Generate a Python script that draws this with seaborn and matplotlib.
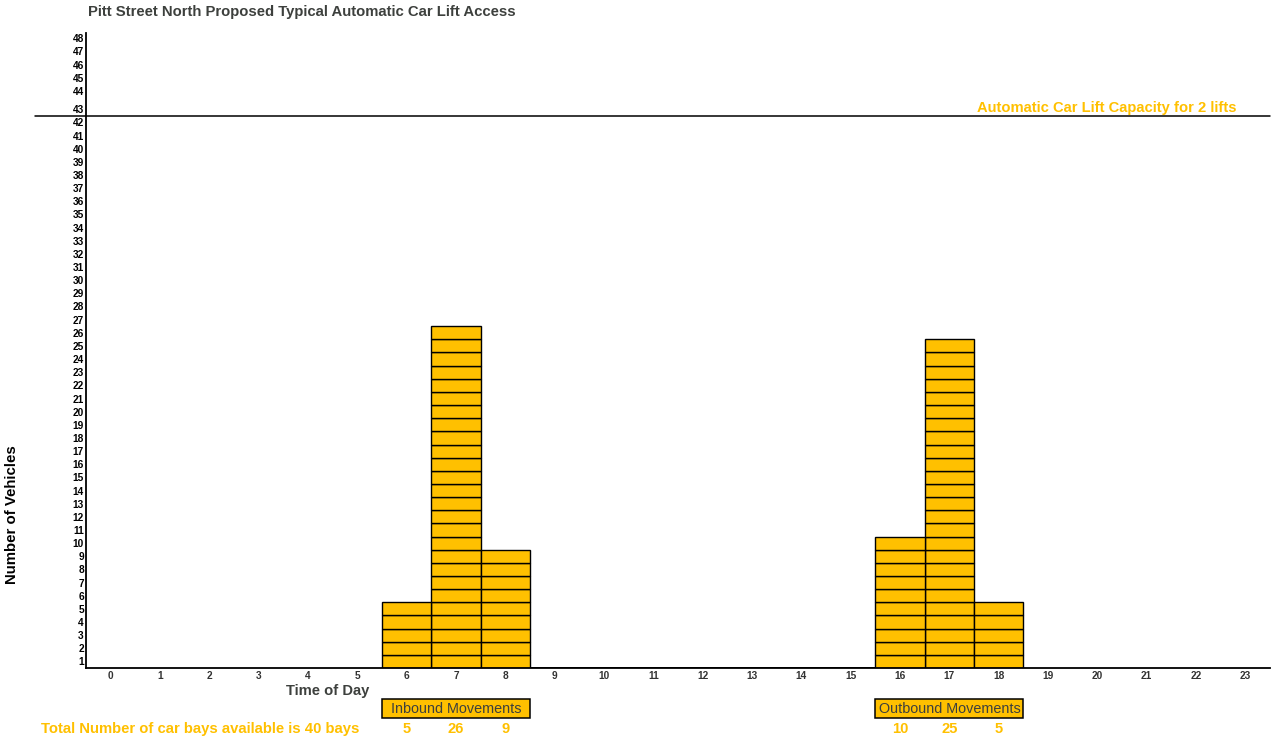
import numpy as np
import pandas as pd
import matplotlib
matplotlib.use("Agg")
import matplotlib.pyplot as plt
import matplotlib.transforms as mtransforms
from matplotlib.patches import Rectangle
import seaborn as sns

# ---- data -------------------------------------------------------------
hours = list(range(24))
inbound_hours = [6, 7, 8]
inbound_counts = [5, 26, 9]
outbound_hours = [16, 17, 18]
outbound_counts = [10, 25, 5]
y_tick_values = list(range(1, 49))
lift_capacity = 42
total_bays = 40

GOLD = "#FFC000"
DARK = "#3d403d"

# vehicles per hour across the day
vehicles_per_hour = {h: 0 for h in hours}
for h, n in zip(inbound_hours + outbound_hours, inbound_counts + outbound_counts):
    vehicles_per_hour[h] = n

# one row per vehicle, so each vehicle becomes one stacked cell
rows = [(h, k) for h, n in vehicles_per_hour.items() for k in range(n)]
df = pd.DataFrame(rows, columns=["hour", "slot"])
df["slot"] = df["slot"].astype(str)
slots = [str(k) for k in range(max(vehicles_per_hour.values()))]

# ---- figure -----------------------------------------------------------
sns.set_style("white")
plt.rcParams["font.family"] = ["Liberation Sans", "DejaVu Sans"]

fig = plt.figure(figsize=(12.72, 7.37), dpi=100)
ax = fig.add_axes([0.0676, 0.0936, 0.9309, 0.8616])

sns.histplot(data=df, x="hour", hue="slot", hue_order=slots,
             multiple="stack", discrete=True, shrink=1.0,
             palette=[GOLD] * len(slots), edgecolor="black",
             linewidth=1.0, alpha=1.0, legend=False, ax=ax)

ax.set_xlim(-0.5, 23.5)
ax.set_ylim(0, 48.3)

# x axis: every hour of the day
ax.set_xticks(hours)
ax.set_xticklabels([str(h) for h in hours], fontsize=7.3,
                   fontweight="bold", color="#333333")

# y axis: labels sit in the middle of each vehicle cell
y_pos = [v - 0.5 if v <= 43 else v - 0.1 for v in y_tick_values]
ax.set_yticks(y_pos)
ax.set_yticklabels([str(v) for v in y_tick_values], fontsize=7.3,
                   fontweight="bold", color="black")
ax.tick_params(axis="both", length=0)
ax.tick_params(axis="x", pad=2.5)
ax.tick_params(axis="y", pad=1.5)

for side in ("top", "right"):
    ax.spines[side].set_visible(False)
for side in ("left", "bottom"):
    ax.spines[side].set_color("black")
    ax.spines[side].set_linewidth(1.3)

ax.set_xlabel("")
ax.set_ylabel("")

# lift capacity line
ax.axhline(lift_capacity, xmin=-0.043, xmax=1.0, color="black",
           linewidth=1.1, clip_on=False)
ax.annotate("Automatic Car Lift Capacity for 2 lifts",
            xy=(0.972, lift_capacity), xycoords=("axes fraction", "data"),
            xytext=(0, 0.5), textcoords="offset points",
            ha="right", va="bottom", fontsize=10.6, fontweight="bold",
            color=GOLD)

# movement boxes and counts under the axis
blend = mtransforms.blended_transform_factory(ax.transData, ax.transAxes)
for hrs, counts, label in [(inbound_hours, inbound_counts, "Inbound Movements"),
                           (outbound_hours, outbound_counts, "Outbound Movements")]:
    x0, x1 = min(hrs) - 0.5, max(hrs) + 0.5
    ax.add_patch(Rectangle((x0, -0.0787), x1 - x0, 0.0299, transform=blend,
                           facecolor=GOLD, edgecolor="black", linewidth=1.1,
                           clip_on=False))
    ax.text((x0 + x1) / 2, -0.0652, label, transform=blend, ha="center",
            va="center", fontsize=10.4, color=DARK)
    for h, c in zip(hrs, counts):
        ax.text(h, -0.0958, str(c), transform=blend, ha="center", va="center",
                fontsize=10.6, fontweight="bold", color=GOLD)

# titles and axis captions
fig.text(88 / 1272, 1 - 12 / 737,
         "Pitt Street North Proposed Typical Automatic Car Lift Access",
         ha="left", va="center", fontsize=10.7, fontweight="bold", color=DARK)
fig.text(12 / 1272, 1 - 515 / 737, "Number of Vehicles", rotation=90,
         ha="center", va="center", fontsize=10.8, fontweight="bold",
         color="black")
fig.text(328 / 1272, 1 - 691 / 737, "Time of Day", ha="center", va="center",
         fontsize=10.6, fontweight="bold", color=DARK)
fig.text(200 / 1272, 1 - 729 / 737,
         f"Total Number of car bays available is {total_bays} bays",
         ha="center", va="center", fontsize=10.7, fontweight="bold",
         color=GOLD)

fig.savefig("out.png", dpi=100, facecolor="white")
